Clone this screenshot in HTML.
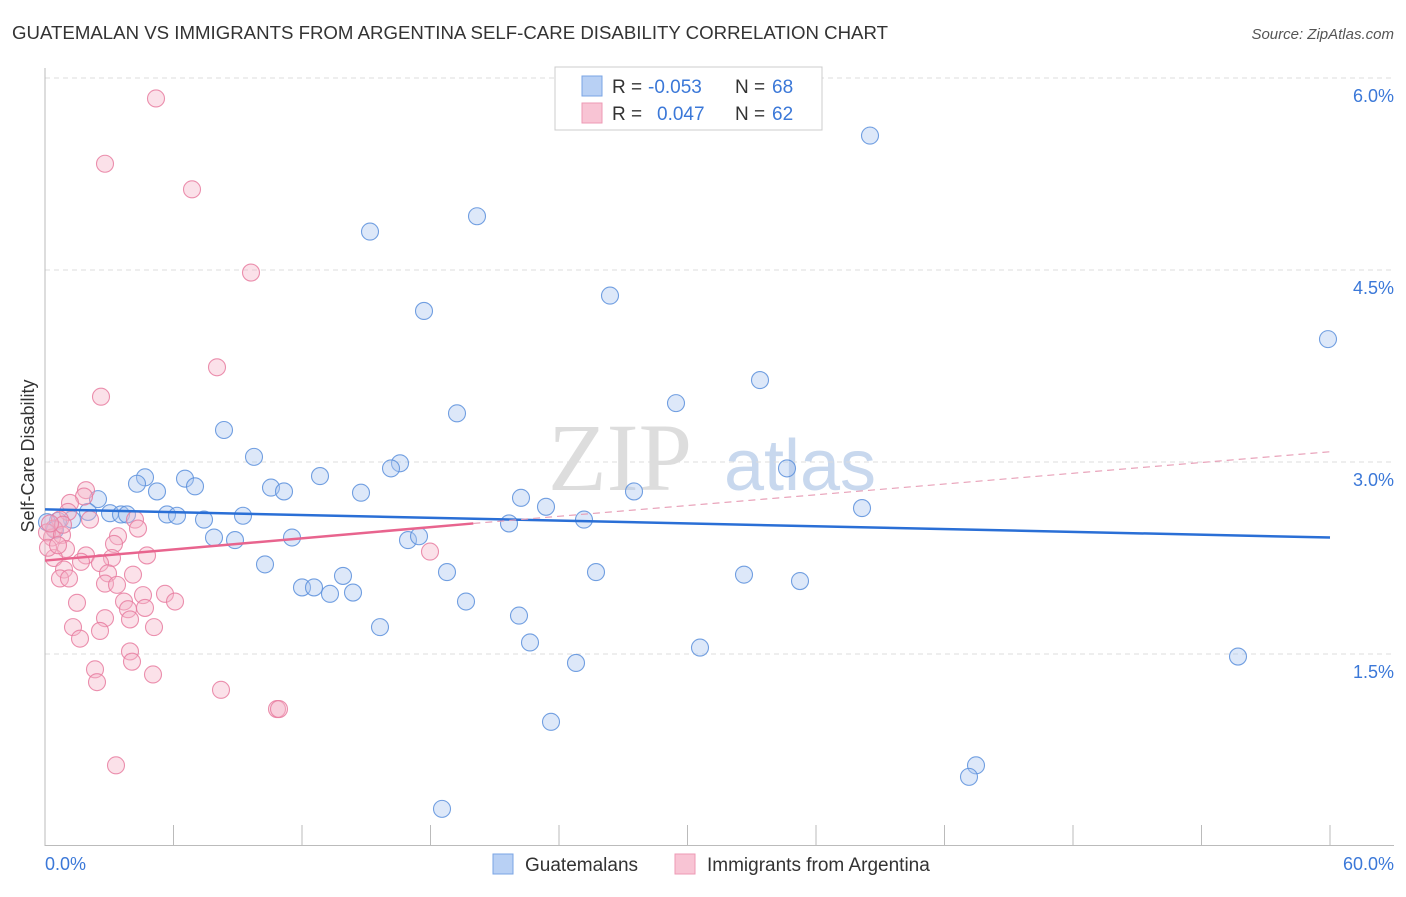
<!DOCTYPE html>
<html><head><meta charset="utf-8"><style>
body{margin:0;background:#fff;font-family:"Liberation Sans",sans-serif}
</style></head><body>
<svg width="1406" height="892" xmlns="http://www.w3.org/2000/svg" font-family="Liberation Sans, sans-serif">
<text x="12" y="39" font-size="18" fill="#333" textLength="876" lengthAdjust="spacingAndGlyphs">GUATEMALAN VS IMMIGRANTS FROM ARGENTINA SELF-CARE DISABILITY CORRELATION CHART</text>
<text x="1394" y="39" font-size="15" fill="#555" font-style="italic" text-anchor="end">Source: ZipAtlas.com</text>
<text x="620" y="490" font-size="96" fill="#ddd" font-family="Liberation Serif, serif" text-anchor="middle">ZIP</text>
<text x="800" y="490" font-size="72" fill="#c8d8ee" text-anchor="middle">atlas</text>
<g id="grid"></g>
<line x1="45" y1="68" x2="45" y2="846" stroke="#bbb"/>
<line x1="45" y1="845.5" x2="1394" y2="845.5" stroke="#bbb"/>
<text transform="translate(34,456) rotate(-90)" font-size="18" fill="#333" text-anchor="middle">Self-Care Disability</text>
<text x="45" y="870" font-size="18" fill="#3b78d8">0.0%</text>
<text x="1394" y="870" font-size="18" fill="#3b78d8" text-anchor="end">60.0%</text>
<g id="marks"></g>
<g>
<rect x="555" y="67" width="267" height="63" fill="#fff" stroke="#ccc"/>
<rect x="582" y="76" width="20" height="20" fill="#b8d0f4" stroke="#7aa4e4"/>
<rect x="582" y="103" width="20" height="20" fill="#f8c4d4" stroke="#ee9ab4"/>
<text x="612" y="93" font-size="19" fill="#333">R =</text>
<text x="648" y="93" font-size="19" fill="#3b78d8">-0.053</text>
<text x="735" y="93" font-size="19" fill="#333">N =</text>
<text x="772" y="93" font-size="19" fill="#3b78d8">68</text>
<text x="612" y="120" font-size="19" fill="#333">R =</text>
<text x="657" y="120" font-size="19" fill="#3b78d8">0.047</text>
<text x="735" y="120" font-size="19" fill="#333">N =</text>
<text x="772" y="120" font-size="19" fill="#3b78d8">62</text>
</g>
<g>
<rect x="493" y="854" width="20" height="20" fill="#b8d0f4" stroke="#7aa4e4"/>
<text x="525" y="871" font-size="19" fill="#333">Guatemalans</text>
<rect x="675" y="854" width="20" height="20" fill="#f8c4d4" stroke="#ee9ab4"/>
<text x="707" y="871" font-size="19" fill="#333">Immigrants from Argentina</text>
</g>
</svg>
<script>
const yTicks=[1.5,3.0,4.5,6.0];
const yTickLabels=["1.5%","3.0%","4.5%","6.0%"];
const xTicks=[0,6,12,18,24,30,36,42,48,54,60];
const bluePts=[[870,5.55],[477,4.92],[370,4.8],[610,4.3],[424,4.18],[1328,3.96],[760,3.64],[676,3.46],[457,3.38],[224,3.25],[254,3.04],[400,2.99],[391,2.95],[787,2.95],[320,2.89],[145,2.88],[185,2.87],[137,2.83],[195,2.81],[271,2.8],[284,2.77],[157,2.77],[361,2.76],[634,2.77],[521,2.72],[98,2.71],[546,2.65],[862,2.64],[110,2.6],[167,2.59],[88,2.61],[121,2.59],[127,2.59],[177,2.58],[243,2.58],[204,2.55],[509,2.52],[584,2.55],[72,2.55],[58,2.54],[47,2.53],[55,2.47],[214,2.41],[235,2.39],[292,2.41],[408,2.39],[419,2.42],[265,2.2],[447,2.14],[596,2.14],[744,2.12],[343,2.11],[302,2.02],[314,2.02],[800,2.07],[353,1.98],[330,1.97],[466,1.91],[519,1.8],[380,1.71],[530,1.59],[700,1.55],[576,1.43],[1238,1.48],[551,0.97],[976,0.63],[969,0.54],[442,0.29]];
const pinkPts=[[156,5.84],[105,5.33],[192,5.13],[251,4.48],[217,3.74],[101,3.51],[86,2.78],[84,2.73],[70,2.68],[135,2.55],[68,2.61],[138,2.48],[118,2.42],[60,2.55],[54,2.48],[52,2.41],[47,2.45],[62,2.43],[430,2.3],[114,2.36],[66,2.32],[147,2.27],[86,2.27],[54,2.25],[81,2.22],[112,2.25],[100,2.21],[64,2.16],[60,2.09],[108,2.13],[133,2.12],[69,2.09],[105,2.05],[117,2.04],[165,1.97],[143,1.96],[77,1.9],[175,1.91],[124,1.91],[128,1.85],[145,1.86],[130,1.77],[105,1.78],[73,1.71],[154,1.71],[100,1.68],[80,1.62],[130,1.52],[95,1.38],[132,1.44],[153,1.34],[97,1.28],[221,1.22],[277,1.07],[279,1.07],[116,0.63],[48,2.33],[58,2.35],[63,2.51],[50,2.52],[90,2.55]];
const blueX=bluePts.map(p=>(p[0]-45)/1285*60), blueY=bluePts.map(p=>p[1]);
const pinkX=pinkPts.map(p=>(p[0]-45)/1285*60), pinkY=pinkPts.map(p=>p[1]);
const blueTrend=[[0,2.63],[60,2.41]];
const pinkTrend=[[0,2.23],[20,2.52],[60,3.08]];
const sx=v=>45+v/60*1285, sy=v=>846-v*128;
const NS="http://www.w3.org/2000/svg";
const grid=document.getElementById('grid'), marks=document.getElementById('marks');
function mk(tag,attrs,parent){const e=document.createElementNS(NS,tag);for(const k in attrs)e.setAttribute(k,attrs[k]);parent.appendChild(e);return e;}
yTicks.forEach((t,i)=>{
 const l=mk('line',{x1:45,x2:1394,y1:sy(t),y2:sy(t),stroke:'#ddd','stroke-dasharray':'5,4'},grid);
 
 
 const tx=mk('text',{x:1394,y:sy(t)+24,'font-size':18,fill:'#3b78d8','text-anchor':'end'},grid);
 tx.textContent=yTickLabels[i];
 
 
});
mk('line',{x1:45,x2:1394,y1:78,y2:78,stroke:'#ddd','stroke-dasharray':'5,4'},grid);
xTicks.forEach(t=>{
 const l=mk('line',{x1:sx(t),x2:sx(t),y1:825,y2:846,stroke:'#bbb'},grid);
 
 
});
function dots(xs,ys,fill,stroke,name){
 xs.forEach((x,i)=>{
  const c=mk('circle',{cx:sx(x),cy:sy(ys[i]),r:8.5,fill:fill,'fill-opacity':0.4,stroke:stroke,'stroke-width':1.1,'stroke-opacity':0.85},marks);
  
  
 });
}
dots(blueX,blueY,'#a9c6f0','#5b8fdc','point-guatemalan');
dots(pinkX,pinkY,'#f6b4c8','#e87ca0','point-argentina');
let b=mk('line',{x1:sx(blueTrend[0][0]),y1:sy(blueTrend[0][1]),x2:sx(blueTrend[1][0]),y2:sy(blueTrend[1][1]),stroke:'#2a6fd6','stroke-width':2.5},marks);


let p1=mk('line',{x1:sx(pinkTrend[0][0]),y1:sy(pinkTrend[0][1]),x2:sx(pinkTrend[1][0]),y2:sy(pinkTrend[1][1]),stroke:'#e8648e','stroke-width':2.5},marks);


let p2=mk('line',{x1:sx(pinkTrend[1][0]),y1:sy(pinkTrend[1][1]),x2:sx(pinkTrend[2][0]),y2:sy(pinkTrend[2][1]),stroke:'#e8a0b8','stroke-width':1.2,'stroke-dasharray':'7,5'},marks);


</script>
</body></html>
